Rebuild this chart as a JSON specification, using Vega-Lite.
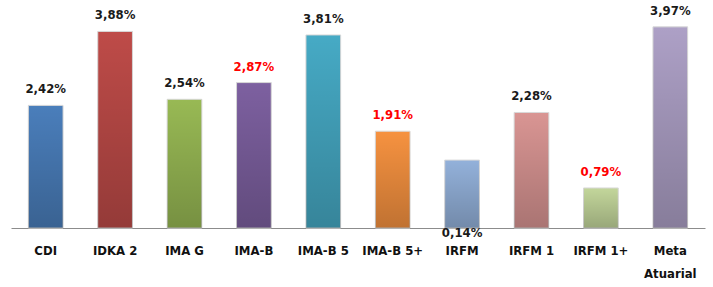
{
  "$schema": "https://vega.github.io/schema/vega-lite/v6.json",
  "width": 694,
  "height": 228,
  "autosize": "none",
  "padding": {"left": 11, "top": 0, "right": 8, "bottom": 59},
  "background": "white",
  "config": {"view": {"stroke": null}},
  "data": {
    "values": [
      {"categoria": "CDI", "valor": 2.42, "rotulo": "2,42%", "destaque": false},
      {"categoria": "IDKA 2", "valor": 3.88, "rotulo": "3,88%", "destaque": false},
      {"categoria": "IMA G", "valor": 2.54, "rotulo": "2,54%", "destaque": false},
      {"categoria": "IMA-B", "valor": 2.87, "rotulo": "2,87%", "destaque": true},
      {"categoria": "IMA-B 5", "valor": 3.81, "rotulo": "3,81%", "destaque": false},
      {"categoria": "IMA-B 5+", "valor": 1.91, "rotulo": "1,91%", "destaque": true},
      {"categoria": "IRFM", "valor": 1.34, "rotulo": "0,14%", "destaque": false},
      {"categoria": "IRFM 1", "valor": 2.28, "rotulo": "2,28%", "destaque": false},
      {"categoria": "IRFM 1+", "valor": 0.79, "rotulo": "0,79%", "destaque": true},
      {"categoria": "Meta Atuarial", "valor": 3.97, "rotulo": "3,97%", "destaque": false}
    ]
  },
  "encoding": {
    "x": {
      "field": "categoria",
      "type": "nominal",
      "sort": null,
      "scale": {"paddingInner": 0.5, "paddingOuter": 0.25},
      "axis": {
        "title": null,
        "labelAngle": 0,
        "ticks": false,
        "domainColor": "#8c8c8c",
        "domainWidth": 1,
        "labelFont": "Liberation Sans Narrow, DejaVu Sans Condensed, sans-serif",
        "labelFontSize": 13,
        "labelFontWeight": "bold",
        "labelColor": "#111111",
        "labelPadding": 16,
        "labelLineHeight": 23,
        "labelExpr": "datum.label == 'Meta Atuarial' ? ['Meta', 'Atuarial'] : datum.label"
      }
    }
  },
  "layer": [
    {
      "mark": {"type": "bar", "stroke": "#d8d8d8", "strokeWidth": 1},
      "encoding": {
        "y": {"field": "valor", "type": "quantitative", "scale": {"domain": [0, 4.5]}, "axis": null},
        "color": {
          "field": "categoria",
          "type": "nominal",
          "sort": null,
          "legend": null,
          "scale": {
            "domain": ["CDI", "IDKA 2", "IMA G", "IMA-B", "IMA-B 5", "IMA-B 5+", "IRFM", "IRFM 1", "IRFM 1+", "Meta Atuarial"],
            "range": ["#4a7ebb", "#be4b48", "#98b954", "#7d60a0", "#46aac5", "#f69240", "#93b1da", "#d99593", "#c3d69b", "#ada0c6"]
          }
        }
      }
    },
    {
      "mark": {
        "type": "bar",
        "color": {
          "gradient": "linear",
          "x1": 0, "y1": 0, "x2": 0, "y2": 1,
          "stops": [
            {"offset": 0, "color": "rgba(0,0,0,0)"},
            {"offset": 1, "color": "rgba(0,0,0,0.22)"}
          ]
        }
      },
      "encoding": {
        "y": {"field": "valor", "type": "quantitative"}
      }
    },
    {
      "transform": [{"filter": "datum.categoria != 'IRFM'"}],
      "mark": {
        "type": "text",
        "baseline": "middle",
        "dy": -16,
        "font": "Liberation Sans Narrow, DejaVu Sans Condensed, sans-serif",
        "fontSize": 13,
        "fontWeight": "bold"
      },
      "encoding": {
        "y": {"field": "valor", "type": "quantitative"},
        "text": {"field": "rotulo"},
        "color": {
          "field": "destaque",
          "type": "nominal",
          "legend": null,
          "scale": {"domain": [false, true], "range": ["#1a1a1a", "#ff0000"]}
        }
      }
    },
    {
      "transform": [{"filter": "datum.categoria == 'IRFM'"}],
      "mark": {
        "type": "text",
        "baseline": "middle",
        "dy": 5,
        "font": "Liberation Sans Narrow, DejaVu Sans Condensed, sans-serif",
        "fontSize": 13,
        "fontWeight": "bold",
        "color": "#1a1a1a"
      },
      "encoding": {
        "y": {"datum": 0, "type": "quantitative"},
        "text": {"field": "rotulo"}
      }
    }
  ],
  "resolve": {"scale": {"color": "independent"}}
}
